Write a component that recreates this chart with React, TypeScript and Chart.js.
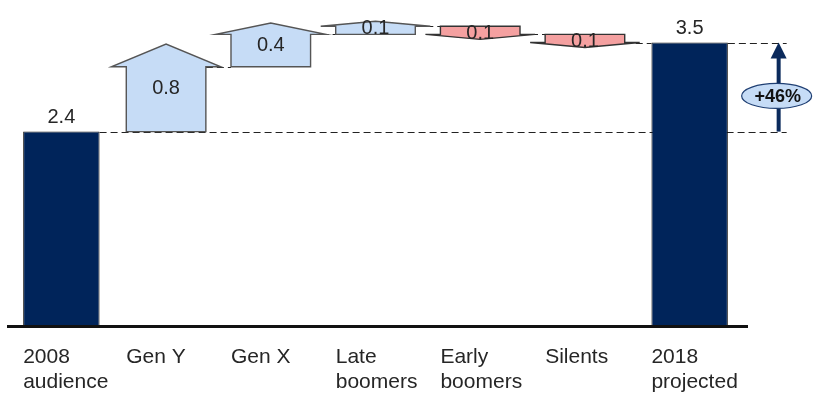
import { useEffect, useRef } from "react";
import { Chart, registerables } from "chart.js";

Chart.register(...registerables);

// Audience waterfall: 2008 total, generational changes, 2018 projection
const categories: string[][] = [
  ["2008", "audience"],
  ["Gen Y"],
  ["Gen X"],
  ["Late", "boomers"],
  ["Early", "boomers"],
  ["Silents"],
  ["2018", "projected"],
];
const startTotal = 2.4;
const endTotal = 3.5;
const changes = [0.8, 0.4, 0.1, -0.1, -0.1];

const FONT = "'Liberation Sans', Arial, sans-serif";
const TEXT = "#262626";
const NAVY = "#00245a";
const UP_FILL = "#c6dcf6";
const DOWN_FILL = "#f4a0a0";

const round1 = (v: number) => Math.round(v * 100) / 100;

// floating ranges [from, to] for each change column
const steps: ([number, number] | null)[] = [null];
{
  let run = startTotal;
  for (const c of changes) {
    const next = round1(run + c);
    steps.push([run, next]);
    run = next;
  }
  steps.push(null);
}
const totals: (number | null)[] = [startTotal, ...changes.map(() => null), endTotal];

function columnGeom(chart: Chart, i: number) {
  const ds = steps[i] ? 1 : 0;
  const el: any = chart.getDatasetMeta(ds).data[i];
  return { x: el.x as number, half: (el.width as number) / 2 };
}

const waterfallPlugin = {
  id: "waterfallArrows",
  beforeDatasetsDraw(chart: Chart) {
    const ctx = chart.ctx;
    const y = chart.scales.y;
    const xs = chart.scales.x;
    const n = categories.length;
    const catW = (xs.right - xs.left) / n;
    const annX = xs.getPixelForValue(n - 1) + catW * 0.85;

    ctx.save();
    ctx.strokeStyle = "#222";
    ctx.lineWidth = 1.2;
    ctx.setLineDash([7, 4]);
    const levels: number[] = [startTotal, ...steps.slice(1, n - 1).map((s) => (s as number[])[1])];
    for (let i = 0; i < n - 1; i++) {
      const a = columnGeom(chart, i);
      const b = columnGeom(chart, i + 1);
      const py = Math.round(y.getPixelForValue(levels[i])) + 0.5;
      const x1 = a.x + a.half;
      const x2 = i === 0 ? annX + 8 : b.x - b.half;
      ctx.beginPath();
      ctx.moveTo(x1, py);
      ctx.lineTo(x2, py);
      ctx.stroke();
    }
    const last = columnGeom(chart, n - 1);
    const pyEnd = Math.round(y.getPixelForValue(endTotal)) + 0.5;
    ctx.beginPath();
    ctx.moveTo(last.x + last.half, pyEnd);
    ctx.lineTo(annX + 8, pyEnd);
    ctx.stroke();
    ctx.restore();
  },
  afterDatasetsDraw(chart: Chart) {
    const ctx = chart.ctx;
    const y = chart.scales.y;
    const xs = chart.scales.x;
    const n = categories.length;
    const area = chart.chartArea;

    ctx.save();
    // axis line
    ctx.fillStyle = "#111";
    ctx.fillRect(area.left - 2, area.bottom - 1, area.right - area.left + 8, 3);

    // category labels, left-aligned with each column
    ctx.fillStyle = TEXT;
    ctx.font = `21px ${FONT}`;
    ctx.textAlign = "left";
    ctx.textBaseline = "alphabetic";
    categories.forEach((lines, i) => {
      const { x, half } = columnGeom(chart, i);
      lines.forEach((t, j) => ctx.fillText(t, x - half, area.bottom + 37 + j * 25));
    });

    // change arrows
    ctx.font = `20px ${FONT}`;
    ctx.textAlign = "center";
    ctx.textBaseline = "middle";
    for (let i = 1; i < n - 1; i++) {
      const s = steps[i] as [number, number];
      const { x, half } = columnGeom(chart, i);
      const ys = y.getPixelForValue(s[0]);
      const ye = y.getPixelForValue(s[1]);
      const body = Math.abs(ys - ye);
      const dir = ye < ys ? -1 : 1;
      const headH = Math.max(5, Math.min(24, body * 0.35));
      const wing = 15;
      const tip = ye + dir * headH;
      ctx.beginPath();
      ctx.moveTo(x - half, ys);
      ctx.lineTo(x - half, ye);
      ctx.lineTo(x - half - wing, ye);
      ctx.lineTo(x, tip);
      ctx.lineTo(x + half + wing, ye);
      ctx.lineTo(x + half, ye);
      ctx.lineTo(x + half, ys);
      ctx.closePath();
      ctx.fillStyle = dir < 0 ? UP_FILL : DOWN_FILL;
      ctx.fill();
      ctx.strokeStyle = dir < 0 ? "#555" : "#333";
      ctx.lineWidth = 1.4;
      ctx.stroke();
      ctx.fillStyle = TEXT;
      ctx.fillText(Math.abs(changes[i - 1]).toFixed(1), x, (ys + tip) / 2 + 1);
    }

    // total labels
    ctx.textBaseline = "alphabetic";
    [0, n - 1].forEach((i) => {
      const { x } = columnGeom(chart, i);
      const v = totals[i] as number;
      ctx.fillText(v.toFixed(1), x, y.getPixelForValue(v) - 9);
    });

    // growth annotation
    const catW = (xs.right - xs.left) / n;
    const ax = xs.getPixelForValue(n - 1) + catW * 0.85;
    const yTop = y.getPixelForValue(endTotal);
    const yBot = y.getPixelForValue(startTotal);
    ctx.strokeStyle = "#0b2a5c";
    ctx.fillStyle = "#0b2a5c";
    ctx.lineWidth = 4;
    ctx.beginPath();
    ctx.moveTo(ax, yBot);
    ctx.lineTo(ax, yTop + 14);
    ctx.stroke();
    ctx.beginPath();
    ctx.moveTo(ax, yTop);
    ctx.lineTo(ax - 8, yTop + 16);
    ctx.lineTo(ax + 8, yTop + 16);
    ctx.closePath();
    ctx.fill();

    const ey = yTop + (yBot - yTop) * 0.6;
    ctx.beginPath();
    ctx.ellipse(ax - 2, ey, 35, 12.5, 0, 0, Math.PI * 2);
    ctx.fillStyle = UP_FILL;
    ctx.fill();
    ctx.strokeStyle = "#1f3f73";
    ctx.lineWidth = 1.2;
    ctx.stroke();
    const pct = Math.round(((endTotal - startTotal) / startTotal) * 100);
    ctx.fillStyle = "#111";
    ctx.font = `bold 18px ${FONT}`;
    ctx.textAlign = "center";
    ctx.textBaseline = "middle";
    ctx.fillText(`+${pct}%`, ax - 1, ey + 1);
    ctx.restore();
  },
};

export default function App() {
  const ref = useRef<HTMLCanvasElement>(null);

  useEffect(() => {
    if (!ref.current) return;
    const chart = new Chart(ref.current, {
      type: "bar",
      data: {
        labels: categories.map((c) => c.join(" ")),
        datasets: [
          {
            data: totals as any,
            backgroundColor: NAVY,
            borderColor: "#1a1a1a",
            borderWidth: 1,
            barPercentage: 0.73,
            categoryPercentage: 1,
            grouped: false,
          },
          {
            data: steps as any,
            backgroundColor: "rgba(0,0,0,0)",
            borderWidth: 0,
            barPercentage: 0.76,
            categoryPercentage: 1,
            grouped: false,
          },
        ],
      },
      options: {
        responsive: false,
        animation: false,
        layout: { padding: { left: 9, right: 71, top: 2, bottom: 68 } },
        plugins: { legend: { display: false }, tooltip: { enabled: false } },
        scales: {
          x: { display: false },
          y: { display: false, min: 0, max: 4 },
        },
      },
      plugins: [waterfallPlugin],
    });
    return () => chart.destroy();
  }, []);

  return (
    <div style={{ position: "fixed", left: 0, top: 0, width: 813, height: 394, background: "#fff" }}>
      <canvas ref={ref} width={813} height={394} style={{ display: "block" }} />
    </div>
  );
}
